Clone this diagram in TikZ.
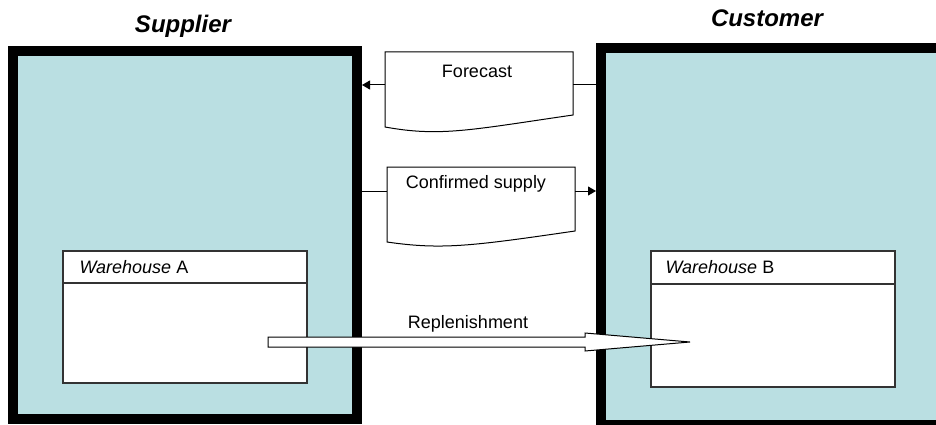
\documentclass[tikz,border=0pt]{standalone}
\usepackage{fontspec}
\setmainfont{Liberation Sans}
\usetikzlibrary{arrows.meta,calc}
\definecolor{panel}{RGB}{186,223,226}

\begin{document}
\begin{tikzpicture}[x = 1pt, y = -1pt,
                        party/.style = {draw, line width = 10pt, fill = panel, inner sep = 0pt},
                        store/.style = {draw = black!80, line width = 1.2pt, fill = white, inner sep = 0pt, outer sep = 0pt},
                        docbox/.style = {inner sep = 0pt, outer sep = 0pt, minimum width = 188pt, minimum height = 75pt},
                        docline/.style = {draw, line width = 1pt, fill = white},
                        title/.style = {anchor = base, font = \fontsize{24}{28}\selectfont\bfseries\itshape},
                        txt/.style = {anchor = base, font = \fontsize{18}{22}\selectfont},
                        flow/.style = {line width = 1pt, -{Triangle[length = 8pt, width = 9pt]}},
                        pipe/.style = {draw, line width = 1pt, fill = white}]
      \useasboundingbox (0, 0) rectangle (936, 425);
      \clip (0, 0) rectangle (936, 425);

      % the two parties
      \node [party, minimum width = 344pt, minimum height = 367.5pt] (sup) at (185, 235.25){};
      \node [party, minimum width = 349pt, minimum height = 377pt] (cus) at (775.5, 236.5){};
      \node [title] (suptitle) at (183, 33) {Supplier};
      \node [title] (custitle) at (767, 27) {Customer};

      % warehouses
      \node [store, minimum width = 244pt, minimum height = 132pt] (wa) at (185, 317){};
      \node [store, minimum width = 244pt, minimum height = 136pt] (wb) at (773, 319){};
      \draw [store] (wa.north west) ++(0, 32) -- ++(244, 0);
      \draw [store] (wb.north west) ++(0, 33) -- ++(244, 0);
      \node [txt, anchor = base west] (walabel) at (76, 273) {\itshape Warehouse\upshape{} A};
      \node [txt, anchor = base west] (wblabel) at (662, 273) {\itshape Warehouse\upshape{} B};

      % documents
      \node [docbox] (fc) at (479, 89.5){};
      \node [docbox] (cs) at (481, 204.5){};
      \draw [docline] (fc.south west) -- (fc.north west) -- (fc.north east) -- ++(0, 63)
            .. controls +(-103, 15) and +(55, 10) .. (fc.south west) -- cycle;
      \draw [docline] (cs.south west) -- (cs.north west) -- (cs.north east) -- ++(0, 64)
            .. controls +(-103, 15) and +(55, 8) .. (cs.south west) -- cycle;
      \node [txt] (fctext) at (477, 78) {Forecast};
      \node [txt] (cstext) at (476, 188) {Confirmed supply};

      % information flows
      \coordinate (fcl) at ([yshift = 4.5pt]fc.west);
      \coordinate (fcr) at ([yshift = 4.5pt]fc.east);
      \coordinate (csl) at ([yshift = 13.5pt]cs.west);
      \coordinate (csr) at ([yshift = 13.5pt]cs.east);
      \draw [flow] (fcl) -- (fcl -| sup.east);
      \draw [line width = 1pt] (fcr) -- (fcr -| cus.west);
      \draw [line width = 1pt] (csl -| sup.east) -- (csl);
      \draw [flow] (csr) -- (csr -| cus.west);

      % goods flow
      \coordinate (rfrom) at (268, 342);
      \coordinate (rto) at (690, 342);
      \draw [pipe] ($(rfrom) + (0, -5)$) -- ($(rto) + (-105, -5)$) -- ($(rto) + (-105, -9)$) -- (rto)
            -- ($(rto) + (-105, 9)$) -- ($(rto) + (-105, 5)$) -- ($(rfrom) + (0, 5)$) -- cycle;
      \node [txt] (rtext) at (468, 328) {Replenishment};

      \end{tikzpicture}
\end{document}
